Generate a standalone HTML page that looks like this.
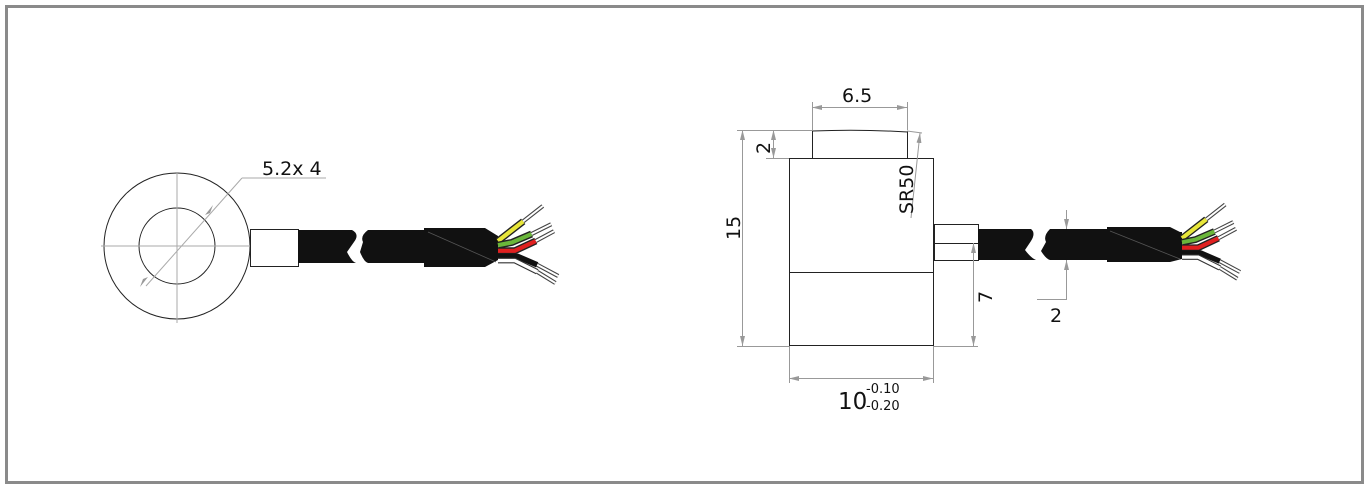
<!DOCTYPE html>
<html><head><meta charset="utf-8"><style>
html,body{margin:0;padding:0;background:#fff;}
svg{display:block;}
text{font-family:"DejaVu Sans","Liberation Sans",sans-serif;fill:#111;}
</style></head><body>
<svg width="1369" height="486" viewBox="0 0 1369 486" xmlns="http://www.w3.org/2000/svg">
<defs>
<marker id="a" viewBox="0 0 10 6" refX="10" refY="3" markerWidth="10" markerHeight="6" orient="auto-start-reverse" markerUnits="userSpaceOnUse"><path d="M0,0.5 L10,3 L0,5.5z" fill="#999"/></marker>
<g id="wires">
 <path d="M0,-5 L18,-19" stroke="#222" stroke-width="5"/><path d="M0,-5 L18,-19" stroke="#e8e63a" stroke-width="3"/>
 <path d="M18,-19 L32,-30" stroke="#444" stroke-width="3"/><path d="M18,-19 L32,-30" stroke="#fff" stroke-width="1.4"/>
 <path d="M0,-2 L10,-4 L24,-10" fill="none" stroke="#222" stroke-width="5"/><path d="M0,-2 L10,-4 L24,-10" fill="none" stroke="#6ab63a" stroke-width="3"/>
 <path d="M24,-10 L38,-17" stroke="#444" stroke-width="3"/><path d="M24,-10 L38,-17" stroke="#fff" stroke-width="1.4"/>
 <path d="M0,2 L12,2 L27,-5" fill="none" stroke="#222" stroke-width="5"/><path d="M0,2 L12,2 L27,-5" fill="none" stroke="#e02020" stroke-width="3"/>
 <path d="M27,-5 L40,-12" stroke="#444" stroke-width="3"/><path d="M27,-5 L40,-12" stroke="#fff" stroke-width="1.4"/>
 <path d="M0,6 L14,6 L28,12" fill="none" stroke="#111" stroke-width="4"/>
 <path d="M28,12 L43,20" stroke="#444" stroke-width="3"/><path d="M28,12 L43,20" stroke="#fff" stroke-width="1.4"/>
 <path d="M0,9 L12,9 L28,17" fill="none" stroke="#333" stroke-width="4"/><path d="M0,9 L12,9 L28,17" fill="none" stroke="#fff" stroke-width="2.4"/>
 <path d="M28,17 L41,25" stroke="#444" stroke-width="3"/><path d="M28,17 L41,25" stroke="#fff" stroke-width="1.4"/>
</g>
</defs>
<rect x="6.5" y="6.5" width="1356" height="476" fill="none" stroke="#8a8a8a" stroke-width="3"/>

<!-- Left view -->
<g fill="none" stroke="#222" stroke-width="1">
<circle cx="177" cy="246" r="73"/>
<circle cx="177" cy="246" r="38"/>
</g>
<g stroke="#aaa" stroke-width="1">
<line x1="101" y1="246" x2="253" y2="246"/>
<line x1="177" y1="172" x2="177" y2="323"/>
<line x1="146" y1="286" x2="242" y2="178"/>
<line x1="242" y1="178" x2="326" y2="178"/>
</g>
<path d="M205,215 l8,-10 l-3,8z M148,277 l-8,10 l3,-8z" fill="#999"/>
<text x="262" y="175" font-size="19">5.2x 4</text>
<rect x="250.5" y="229.5" width="48" height="37" fill="#fff" stroke="#222"/>
<path d="M298,230 L352,230 Q360,234 354,242 L347,252 Q352,262 356,263 L298,263z" fill="#111"/>
<path d="M368,230 Q360,236 363,242 L360,252 Q364,262 368,263 L426,263 L426,230z" fill="#111"/>
<path d="M424,228 L485,228 L498,236 L498,260 L485,267 L424,267z" fill="#111"/>
<line x1="428" y1="232" x2="496" y2="262" stroke="#555" stroke-width="0.8"/>
<use href="#wires" transform="translate(498,248) scale(1.4)"/>

<!-- Right view -->
<g fill="none" stroke="#222" stroke-width="1">
<rect x="789.5" y="158.5" width="144" height="187"/>
<line x1="789" y1="272.5" x2="934" y2="272.5"/>
<path d="M812.5,158 L812.5,131 Q860,129 907.5,132 L907.5,158"/>
</g>
<rect x="934.5" y="224.5" width="44" height="36" fill="#fff" stroke="#222"/>
<line x1="934" y1="243.5" x2="978" y2="243.5" stroke="#222"/>
<path d="M978,229 L1031,229 Q1036,233 1031,241 L1025,250 Q1031,258 1036,260 L978,260z" fill="#111"/>
<path d="M1050,229 Q1043,236 1046,242 L1041,251 Q1046,259 1050,260 L1109,260 L1109,229z" fill="#111"/>
<path d="M1107,227 L1170,227 L1180,232 L1182,232 L1182,259 L1170,262 L1107,262z" fill="#111"/>
<line x1="1110" y1="231" x2="1180" y2="259" stroke="#555" stroke-width="0.8"/>
<use href="#wires" transform="translate(1182,245) scale(1.35)"/>

<g stroke="#999" stroke-width="1" fill="none">
<line x1="737" y1="130.5" x2="812" y2="130.5"/>
<line x1="737" y1="346.5" x2="789" y2="346.5"/>
<line x1="742.5" y1="130" x2="742.5" y2="346" marker-start="url(#a)" marker-end="url(#a)"/>
<line x1="766" y1="158.5" x2="789" y2="158.5"/>
<line x1="773.5" y1="130" x2="773.5" y2="158" marker-start="url(#a)" marker-end="url(#a)"/>
<line x1="812.5" y1="102" x2="812.5" y2="130"/>
<line x1="907.5" y1="102" x2="907.5" y2="130"/>
<line x1="812" y1="107.5" x2="907" y2="107.5" marker-start="url(#a)" marker-end="url(#a)"/>
<line x1="907" y1="131" x2="922" y2="133"/>
<line x1="920" y1="133" x2="911" y2="218" marker-start="url(#a)"/>
<line x1="789.5" y1="346" x2="789.5" y2="383"/>
<line x1="933.5" y1="346" x2="933.5" y2="383"/>
<line x1="789" y1="378.5" x2="933" y2="378.5" marker-start="url(#a)" marker-end="url(#a)"/>
<line x1="934" y1="346.5" x2="978" y2="346.5"/>
<line x1="973.5" y1="243" x2="973.5" y2="346" marker-start="url(#a)" marker-end="url(#a)"/>
<line x1="1066.5" y1="210" x2="1066.5" y2="229" marker-end="url(#a)"/>
<line x1="1066.5" y1="300" x2="1066.5" y2="260" marker-end="url(#a)"/>
<line x1="1037" y1="299.5" x2="1066" y2="299.5"/>
</g>
<text x="842" y="102" font-size="19">6.5</text>
<text transform="translate(770,154) rotate(-90)" font-size="19">2</text>
<text transform="translate(740,240) rotate(-90)" font-size="19">15</text>
<text transform="translate(913,214) rotate(-90)" font-size="19">SR50</text>
<text transform="translate(992,303) rotate(-90)" font-size="19">7</text>
<text x="1050" y="322" font-size="19">2</text>
<text x="838" y="409" font-size="23">10</text>
<text x="866" y="393" font-size="13">-0.10</text>
<text x="866" y="410" font-size="13">-0.20</text>
</svg>
</body></html>
